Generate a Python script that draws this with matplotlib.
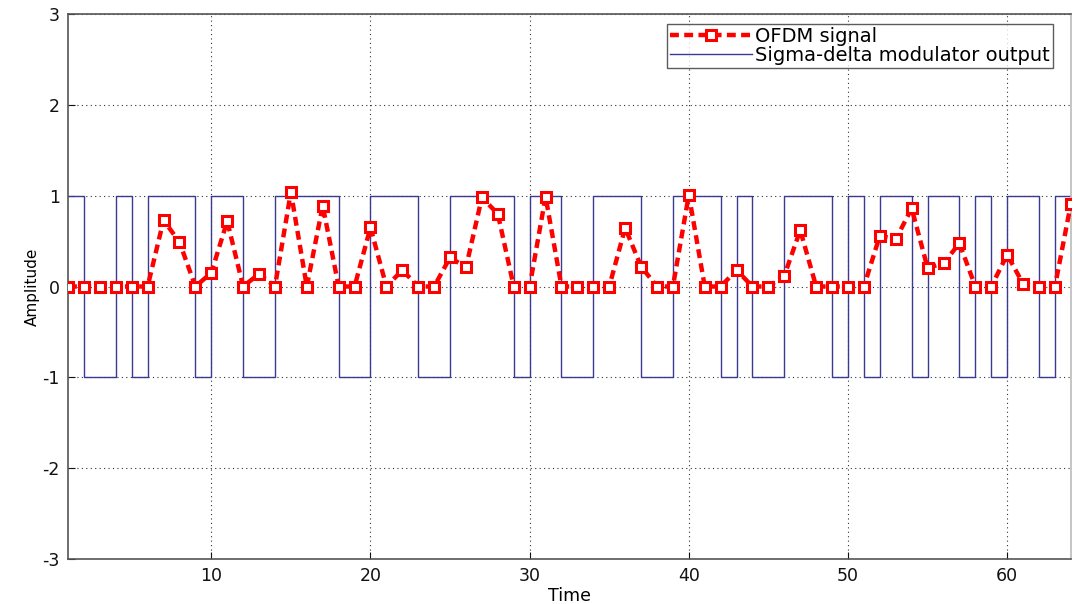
import matplotlib
matplotlib.use("Agg")
import matplotlib.pyplot as plt
import numpy as np

plt.rcParams['font.family'] = ['DejaVu Sans']
plt.rcParams['axes.unicode_minus'] = False

time = list(range(1, 65))
sigma_delta = [1, -1, -1, 1, -1, 1, 1, 1, -1, 1,
               1, -1, -1, 1, 1, 1, 1, -1, -1, 1,
               1, 1, -1, -1, 1, 1, 1, 1, -1, 1,
               1, -1, -1, 1, 1, 1, -1, -1, 1, 1,
               1, -1, 1, -1, -1, 1, 1, 1, -1, 1,
               -1, 1, 1, -1, 1, 1, -1, 1, -1, 1,
               1, -1, 1, 1]
ofdm = [0, 0, 0, 0, 0, 0, 0.73, 0.49, 0, 0.15,
        0.72, 0, 0.14, 0, 1.04, 0, 0.89, 0, 0, 0.65,
        0, 0.18, 0, 0, 0.32, 0.21, 0.98, 0.80, 0, 0,
        0.99, 0, 0, 0, 0, 0.645, 0.22, 0, 0, 1.01,
        0, 0, 0.18, 0, 0, 0.12, 0.62, 0, 0, 0,
        0, 0.56, 0.52, 0.86, 0.205, 0.256, 0.476, 0, 0, 0.35,
        0.03, 0, 0, 0.91]

fig = plt.figure(figsize=(10.73, 6.04), dpi=100)
ax = fig.add_axes([0.0634, 0.0745, 0.9346, 0.9023])

ax.plot(time, ofdm, color='#ff0000', linestyle='--', linewidth=3.2,
        marker='s', markersize=6.5, markerfacecolor='white',
        markeredgecolor='#ff0000', markeredgewidth=2.2,
        dashes=(2.0, 1.2), label='OFDM signal', zorder=3)
ax.plot(time, sigma_delta, color='#3a3a8f', linewidth=1.0,
        drawstyle='steps-post', label='Sigma-delta modulator output', zorder=2)

ax.set_xlim(1, 64)
ax.set_ylim(-3, 3)
ax.set_xticks([10, 20, 30, 40, 50, 60])
ax.set_yticks([-3, -2, -1, 0, 1, 2, 3])
ax.grid(True, linestyle=(0, (1, 3)), color='#333333', linewidth=0.8)
ax.tick_params(direction='in', length=5, labelsize=12.5, colors='#111111', pad=6)
for s in ax.spines.values():
    s.set_color('#555555')
    s.set_linewidth(1.2)
ax.spines['right'].set_color('#bbbbbb')

ax.set_xlabel('Time', fontsize=12.5, labelpad=1)
ax.set_ylabel('Amplitude', fontsize=11, labelpad=2)

leg = ax.legend(loc='upper right', fontsize=14, frameon=True, fancybox=False,
                borderpad=0.15, labelspacing=0.0, handlelength=4.2,
                handletextpad=0.2, borderaxespad=0.5,
                bbox_to_anchor=(0.992, 1.0))
leg.get_frame().set_edgecolor('#333333')
leg.get_frame().set_linewidth(1.0)

fig.savefig('out.png', dpi=100)
